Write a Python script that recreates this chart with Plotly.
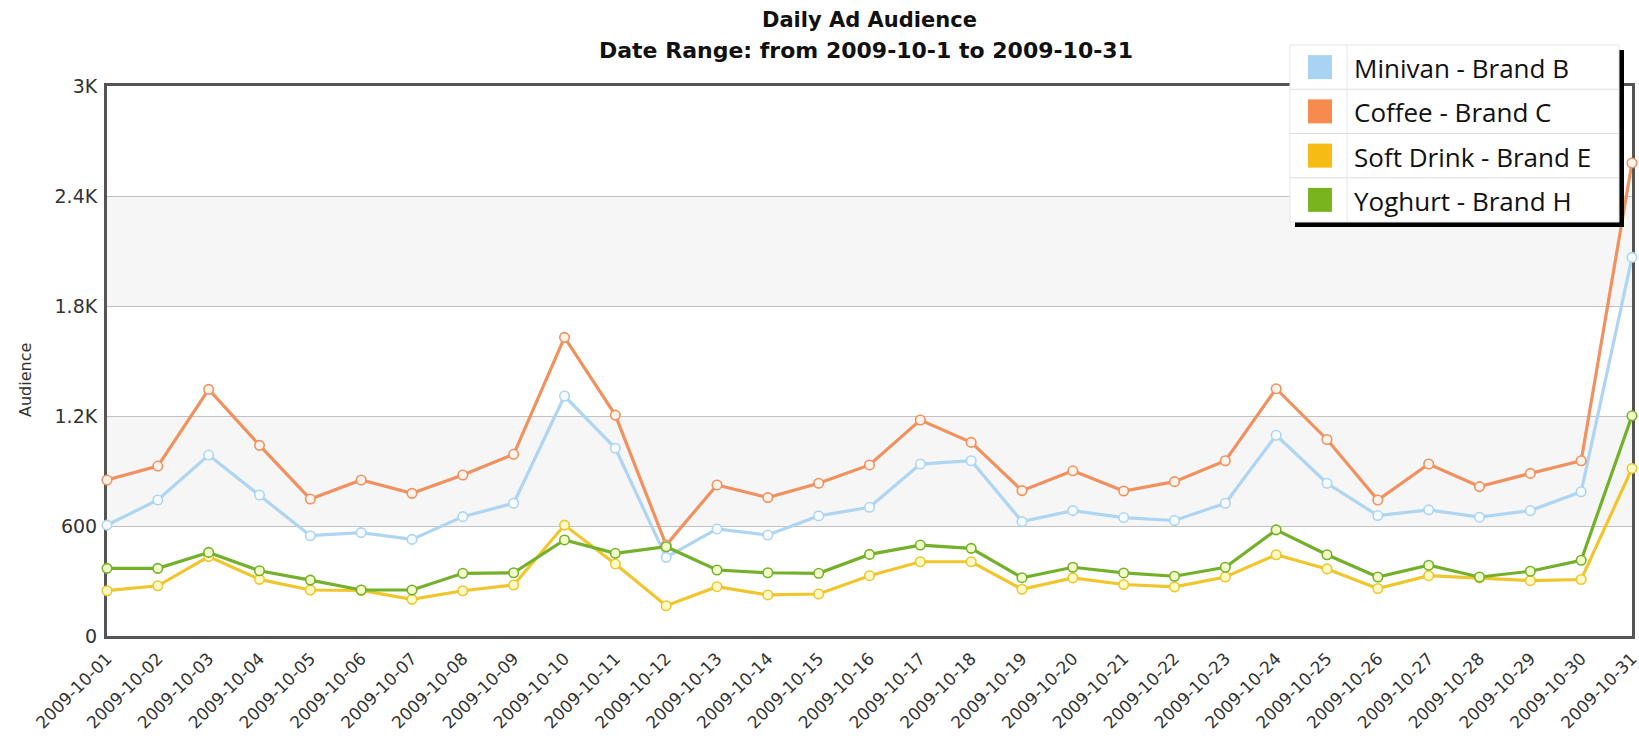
import plotly.graph_objects as go

# ---- data -------------------------------------------------------------
dates = [f"2009-10-{d:02d}" for d in range(1, 32)]

series_names = ["Minivan - Brand B", "Coffee - Brand C",
                "Soft Drink - Brand E", "Yoghurt - Brand H"]

minivan = [605, 742, 987, 769, 547, 564, 527, 651, 724, 1309, 1024, 429, 584,
           551, 655, 702, 938, 956, 624, 684, 646, 630, 724, 1095, 833, 657,
           688, 648, 684, 787, 2065]
coffee = [851, 927, 1345, 1040, 747, 851, 778, 878, 991, 1629, 1205, 496, 824,
          755, 833, 933, 1178, 1056, 793, 901, 791, 842, 956, 1349, 1072, 742,
          938, 815, 887, 956, 2580]
soft_drink = [247, 274, 433, 309, 251, 249, 200, 247, 278, 605, 393, 165, 269,
              224, 229, 329, 405, 405, 255, 317, 281, 268, 322, 443, 366, 259,
              329, 317, 302, 308, 914]
yoghurt = [369, 369, 456, 356, 305, 251, 251, 342, 345, 524, 451, 487, 360,
           345, 342, 445, 496, 478, 318, 375, 344, 326, 375, 579, 443, 322,
           386, 322, 353, 413, 1201]

y_tickvals = [0, 600, 1200, 1800, 2400, 3000]
y_ticktext = ["0", "600", "1.2K", "1.8K", "2.4K", "3K"]

# ---- styling ----------------------------------------------------------
line_colors = ["#aed5f1", "#f0915f", "#f0c62c", "#74b12a"]
marker_fill = ["#f6fbff", "#fff3ec", "#fffbc8", "#f3ffc8"]
swatch_colors = ["#a9d3f2", "#f58b4e", "#f6bb14", "#79b41e"]

W, H = 1639, 740
L, R, T, B = 107, 7, 86, 104
PW, PH = W - L - R, H - T - B


def px(x):
    """pixel x -> paper x"""
    return (x - L) / PW


def py(y):
    """pixel y (from top) -> paper y"""
    return (H - B - y) / PH


fig = go.Figure()

for name, vals, lc, mf in zip(series_names,
                              [minivan, coffee, soft_drink, yoghurt],
                              line_colors, marker_fill):
    fig.add_trace(go.Scatter(
        x=dates, y=vals, name=name, mode="lines+markers",
        line=dict(color=lc, width=3.2),
        marker=dict(symbol="circle", size=9.5, color=mf,
                    line=dict(color=lc, width=1.6)),
        cliponaxis=False, showlegend=False,
    ))

shapes = []
# alternating horizontal bands
for y0, y1 in [(600, 1200), (1800, 2400)]:
    shapes.append(dict(type="rect", xref="paper", yref="y", x0=0, x1=1,
                       y0=y0, y1=y1, fillcolor="#f6f6f6", line_width=0,
                       layer="below"))

# legend box with drop shadow and row rules
lx0, lx1, ly0, ly1 = 1290, 1619, 45, 222
shapes.append(dict(type="rect", xref="paper", yref="paper",
                   x0=px(lx0 + 5), x1=px(lx1 + 5), y0=py(ly1 + 5), y1=py(ly0 + 5),
                   fillcolor="#000000", line_width=0, layer="above"))
shapes.append(dict(type="rect", xref="paper", yref="paper",
                   x0=px(lx0), x1=px(lx1), y0=py(ly1), y1=py(ly0),
                   fillcolor="#ffffff", line=dict(color="#e4e4e4", width=1),
                   layer="above"))
row_h = (ly1 - ly0) / 4
for i in range(1, 4):
    yy = ly0 + i * row_h
    shapes.append(dict(type="line", xref="paper", yref="paper",
                       x0=px(lx0), x1=px(lx1), y0=py(yy), y1=py(yy),
                       line=dict(color="#dedede", width=1), layer="above"))
shapes.append(dict(type="line", xref="paper", yref="paper",
                   x0=px(1347), x1=px(1347), y0=py(ly0), y1=py(ly1),
                   line=dict(color="#e6e6e6", width=1), layer="above"))

annotations = []
for i, (name, sc) in enumerate(zip(series_names, swatch_colors)):
    cy = ly0 + (i + 0.5) * row_h
    shapes.append(dict(type="rect", xref="paper", yref="paper",
                       x0=px(1308), x1=px(1332), y0=py(cy + 12), y1=py(cy - 12),
                       fillcolor=sc, line_width=0, layer="above"))
    annotations.append(dict(xref="paper", yref="paper", x=px(1352), y=py(cy + 1),
                            xanchor="left", yanchor="middle", showarrow=False,
                            text=name,
                            font=dict(family="Open Sans", size=26, color="#111111")))

# y-axis title
annotations.append(dict(xref="paper", yref="paper", x=px(25), y=py(380),
                        xanchor="center", yanchor="middle", showarrow=False,
                        text="Audience", textangle=-90,
                        font=dict(family="DejaVu Sans", size=16, color="#333333")))

# two-line chart heading
title_font = dict(family="DejaVu Sans", size=21, color="#111111", weight="bold")
annotations.append(dict(xref="paper", yref="paper", x=px(869), y=py(20),
                        xanchor="center", yanchor="middle", showarrow=False,
                        text="Daily Ad Audience", font=title_font))
annotations.append(dict(xref="paper", yref="paper", x=px(866), y=py(51),
                        xanchor="center", yanchor="middle", showarrow=False,
                        text="Date Range: from 2009-10-1 to 2009-10-31",
                        font=dict(title_font, size=22)))

fig.update_layout(
    width=W, height=H,
    margin=dict(l=L, r=R, t=T, b=B, pad=0, autoexpand=False),
    paper_bgcolor="#ffffff", plot_bgcolor="#ffffff",
    shapes=shapes, annotations=annotations,
    showlegend=False,
)

fig.update_xaxes(
    type="category", range=[0, len(dates) - 1], automargin=False,
    showgrid=False, zeroline=False,
    showline=True, mirror=True, linecolor="#555555", linewidth=3,
    ticks="", tickangle=-45, ticklabelstandoff=3,
    tickfont=dict(family="DejaVu Sans", size=17, color="#333333"),
    layer="below traces",
)
fig.update_yaxes(
    range=[0, 3000], tickvals=y_tickvals, ticktext=y_ticktext, automargin=False,
    showgrid=True, gridcolor="#c2c2c2", gridwidth=1, zeroline=False,
    showline=True, mirror=True, linecolor="#555555", linewidth=3,
    ticks="", ticklabelstandoff=3,
    tickfont=dict(family="DejaVu Sans", size=19, color="#333333"),
    layer="below traces",
)

fig.write_html("out.html")
